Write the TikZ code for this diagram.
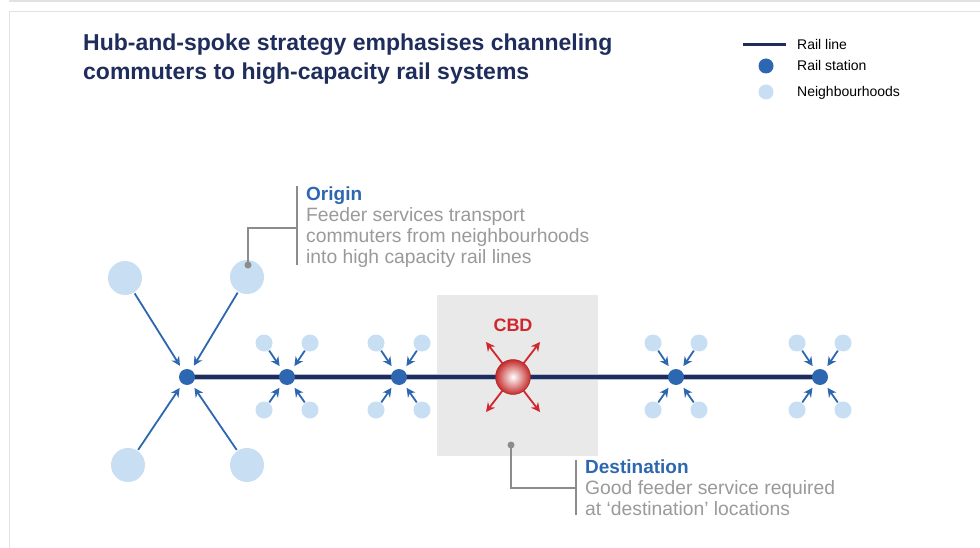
\documentclass[tikz,border=0pt]{standalone}
\usepackage{fontspec}
\setmainfont{Liberation Sans}
\usetikzlibrary{arrows.meta}
\definecolor{navy}{HTML}{1F2D5C}
\definecolor{railedge}{HTML}{B4BBD2}
\definecolor{stblue}{HTML}{2E67B1}
\definecolor{nbh}{HTML}{C8DEF2}
\definecolor{cbdred}{HTML}{D0262C}
\definecolor{ballred}{HTML}{C42A2A}
\definecolor{calgray}{HTML}{8C8C8C}
\definecolor{txtgray}{HTML}{9A9A9A}
\definecolor{framegray}{HTML}{E2E2E2}
\definecolor{cbdbox}{HTML}{E9E9E9}
\begin{document}
\begin{tikzpicture}[x=1pt,y=-1pt,
  station/.style={circle,fill=stblue,minimum size=16pt,inner sep=0pt},
  bignbh/.style={circle,fill=nbh,minimum size=34pt,inner sep=0pt},
  smallnbh/.style={circle,fill=nbh,minimum size=17pt,inner sep=0pt},
  feed/.style={stblue,line width=1.8pt,-{Stealth[length=9pt,width=9pt]}},
  outarr/.style={cbdred,line width=1.8pt,-{Stealth[length=9pt,width=9pt]}},
  callout/.style={calgray,line width=1.6pt},
  calldot/.style={circle,fill=calgray,minimum size=7pt,inner sep=0pt},
  titletxt/.style={anchor=base west,inner sep=0pt,text=navy,font=\bfseries\fontsize{23}{27}\selectfont},
  legtxt/.style={anchor=base west,inner sep=0pt,text=black,font=\fontsize{14}{16}\selectfont},
  headtxt/.style={anchor=base west,inner sep=0pt,text=stblue,font=\bfseries\fontsize{19}{21}\selectfont},
  bodytxt/.style={anchor=base west,inner sep=0pt,text=txtgray,font=\fontsize{19.3}{21}\selectfont},
]
\useasboundingbox (0,0) rectangle (980,548);
\fill[white] (0,0) rectangle (980,548);
% frame
\fill[framegray] (9,0) rectangle (980,2);
\draw[framegray,line width=1.5pt] (9.5,548) -- (9.5,11.5) -- (980,11.5);

% title
\node[titletxt] (t1) at (83,51) {Hub-and-spoke strategy emphasises channeling};
\node[titletxt] (t2) at (83,80) {commuters to high-capacity rail systems};

% legend
\coordinate (lla) at (743,45);
\coordinate (llb) at (786,45);
\draw[navy,line width=3pt] (lla) -- (llb);
\node[legtxt] (l1) at (797,50) {Rail line};
\node[station,minimum size=15pt] (ls) at (766,66) {};
\node[legtxt] (l2) at (797,71) {Rail station};
\node[circle,fill=nbh,minimum size=15pt,inner sep=0pt] (ln) at (766,92) {};
\node[legtxt] (l3) at (797,97) {Neighbourhoods};

% CBD box
\fill[cbdbox] (437,295) rectangle (598,456);

% rail line
\coordinate (r0) at (187,377);
\coordinate (r1) at (820,377);
\draw[railedge,line width=5.5pt] (r0) -- (r1);
\draw[navy,line width=3.5pt] (r0) -- (r1);

% stations
\node[station] (s1) at (187,377) {};
\node[station] (s2) at (287,377) {};
\node[station] (s3) at (399,377) {};
\node[station] (s4) at (676,377) {};
\node[station] (s5) at (820,377) {};

% big neighbourhoods
\node[bignbh] (b1) at (125,278) {};
\node[bignbh] (b2) at (247,277) {};
\node[bignbh] (b3) at (128,465) {};
\node[bignbh] (b4) at (247,465) {};
\foreach \b in {b1,b2,b3,b4}
  \draw[feed,shorten <=1pt,shorten >=5pt] (\b) -- (s1);

% small neighbourhoods
\foreach \s/\x in {s2/287,s3/399,s4/676,s5/820}{
  \node[smallnbh] (\s a) at (\x-23,343) {};
  \node[smallnbh] (\s b) at (\x+23,343) {};
  \node[smallnbh] (\s c) at (\x-23,410) {};
  \node[smallnbh] (\s d) at (\x+23,410) {};
  \foreach \n in {a,b,c,d}
    \draw[feed,shorten <=0.5pt,shorten >=5pt] (\s\n) -- (\s);
}

% CBD
\coordinate (cbd) at (513,377);
\shade[inner color=white,outer color=ballred] (cbd) circle (17.5);
\draw[ballred!80!black,line width=0.4pt] (cbd) circle (17.5);
\node[anchor=base,inner sep=0pt,text=cbdred,font=\bfseries\fontsize{18}{20}\selectfont] (cbdlab) at (513,331) {CBD};
\coordinate (o1) at (486,342);
\coordinate (o2) at (540,342);
\coordinate (o3) at (486,412);
\coordinate (o4) at (540,412);
\foreach \o in {o1,o2,o3,o4}
  \draw[outarr,shorten <=17pt] (cbd) -- (\o);

% Origin callout
\node[calldot] (od) at (248,265) {};
\coordinate (oc1) at (248,228);
\coordinate (oc2) at (297,228);
\draw[callout] (od.center) -- (oc1) -- (oc2);
\coordinate (ov1) at (297,186);
\coordinate (ov2) at (297,265);
\draw[callout] (ov1) -- (ov2);
\node[headtxt] (oh) at (306,201) {Origin};
\node[bodytxt] (ob1) at (306,222) {Feeder services transport};
\node[bodytxt] (ob2) at (306,243) {commuters from neighbourhoods};
\node[bodytxt] (ob3) at (306,264) {into high capacity rail lines};

% Destination callout
\node[calldot] (dd) at (511,445) {};
\coordinate (dc1) at (511,488);
\coordinate (dc2) at (576,488);
\draw[callout] (dd.center) -- (dc1) -- (dc2);
\coordinate (dv1) at (576,460);
\coordinate (dv2) at (576,515);
\draw[callout] (dv1) -- (dv2);
\node[headtxt] (dh) at (585,473) {Destination};
\node[bodytxt] (db1) at (585,494) {Good feeder service required};
\node[bodytxt] (db2) at (585,515) {at ‘destination’ locations};
\end{tikzpicture}
\end{document}
